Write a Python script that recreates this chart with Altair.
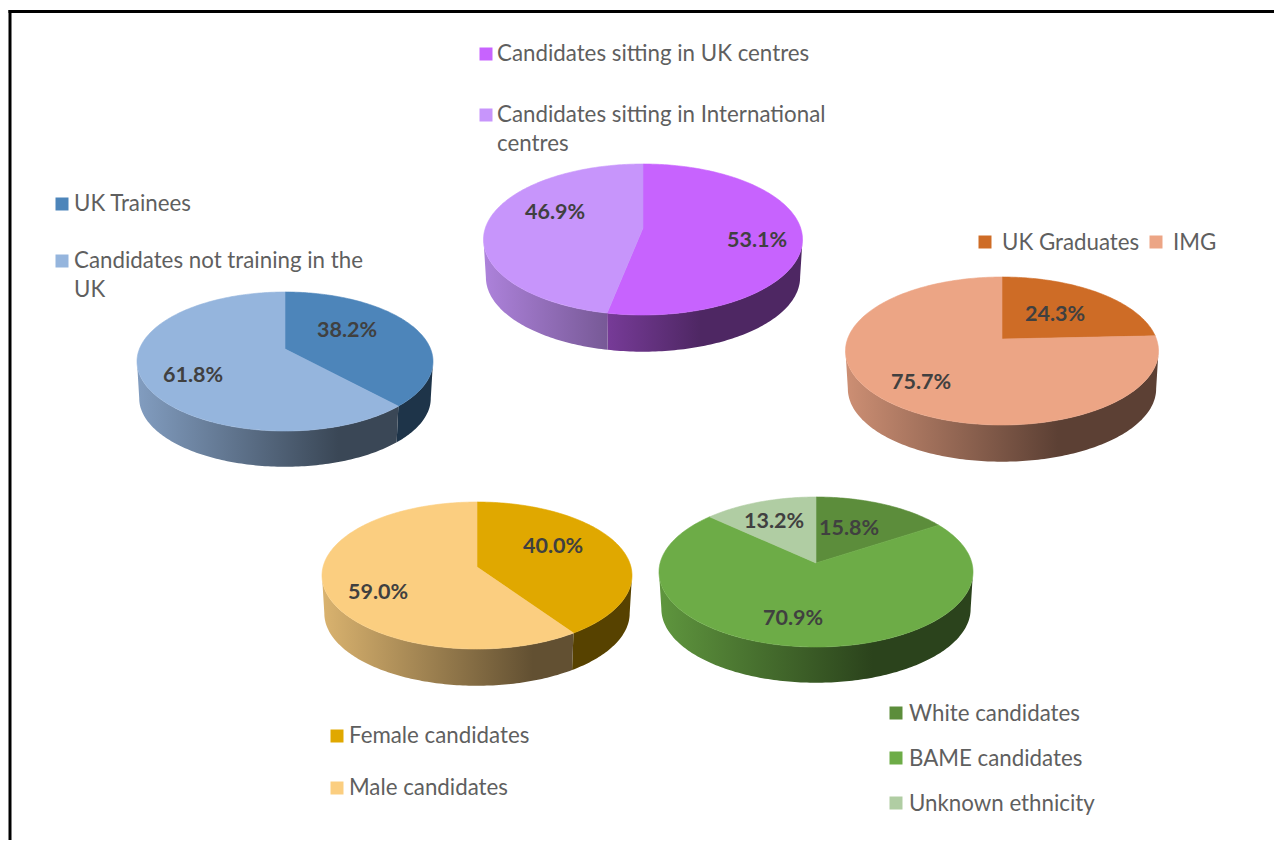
import math
import altair as alt
import pandas as pd

# ---- values ----
trainee_labels = ["UK Trainees", "Candidates not training in the UK"]
trainee_values = [38.2, 61.8]
centre_labels = ["Candidates sitting in UK centres", "Candidates sitting in International centres"]
centre_values = [53.1, 46.9]
graduate_labels = ["UK Graduates", "IMG"]
graduate_values = [24.3, 75.7]
gender_labels = ["Female candidates", "Male candidates"]
gender_values = [40.0, 59.0]
ethnicity_labels = ["White candidates", "BAME candidates", "Unknown ethnicity"]
ethnicity_values = [15.8, 70.9, 13.2]

# ---- styling and layout (page pixel positions) ----
W, H = 1266, 832
FONT = "Lato"
LEG_SIZE = 22.3
LBL_SIZE = 21.5
LEG_COLOR = "#5f5f5f"
LBL_COLOR = "#404040"

pies = [
    dict(values=trainee_values, colors=["#4D85BA", "#95B5DD"], ax=285, ay=349, top=292, bot=431, left=137, right=433, thick=37,
         lbl=[(347, 331), (193, 376)]),
    dict(values=centre_values, colors=["#C763FE", "#C795FB"], ax=643, ay=228, top=164, bot=315, left=484, right=803, thick=38,
         lbl=[(757, 241), (555, 213)]),
    dict(values=graduate_values, colors=["#CE6C26", "#ECA585"], ax=1002, ay=339, top=277, bot=425, left=845, right=1158, thick=38,
         lbl=[(1055, 315), (921, 383)]),
    dict(values=gender_values, colors=["#E0A800", "#FBCE80"], ax=477, ay=567, top=502, bot=649, left=322, right=632, thick=38,
         lbl=[(553, 547), (378, 593)]),
    dict(values=ethnicity_values, colors=["#5C8D3B", "#6DAC47", "#B0CDA3"], ax=816, ay=563, top=497, bot=647, left=659, right=973, thick=37,
         lbl=[(849, 529), (793, 619), (774, 522)]),
]

legend_rows = [
    (62, 204, 74, ["UK Trainees"], "#4D85BA"),
    (62, 261, 74, ["Candidates not training in the", "UK"], "#95B5DD"),
    (486, 54, 497, ["Candidates sitting in UK centres"], "#C763FE"),
    (486, 115, 497, ["Candidates sitting in International", "centres"], "#C795FB"),
    (985, 243, 1002, ["UK Graduates"], "#CE6C26"),
    (1156, 243, 1173, ["IMG"], "#ECA585"),
    (337, 736, 349, ["Female candidates"], "#E0A800"),
    (337, 788, 349, ["Male candidates"], "#FBCE80"),
    (896, 714, 909, ["White candidates"], "#5C8D3B"),
    (896, 759, 909, ["BAME candidates"], "#6DAC47"),
    (896, 804, 909, ["Unknown ethnicity"], "#B0CDA3"),
]
LINE_GAP = 29

X = alt.X("x:Q", scale=alt.Scale(domain=[8, 8 + W], nice=False, zero=False), axis=None)
Y = alt.Y("y:Q", scale=alt.Scale(domain=[8, 8 + H], nice=False, zero=False, reverse=True), axis=None)


def rim(p, theta):
    """Perspective image of a point on the unit circle, theta clockwise from the top."""
    up, down = p["ay"] - p["top"], p["bot"] - p["ay"]
    c = (down - up) / (down + up)
    A = down * (1 - c)
    B = (p["right"] - p["left"]) / 2 * math.sqrt(1 - c * c)
    u, v = math.sin(theta), -math.cos(theta)
    d = 1 - c * v
    return B * u / d, A * v / d


def polygon(rows, fill, stroke=None):
    df = pd.DataFrame(rows, columns=["x", "y"]).reset_index(names="i")
    kw = dict(filled=True, interpolate="linear-closed", fill=fill, strokeWidth=0)
    if stroke:
        kw.update(stroke=stroke, strokeWidth=0.6)
    return alt.Chart(df).mark_line(**kw).encode(x=X, y=Y, order=alt.Order("i:Q"))


def shade(hex_color, f):
    r, g, b = (int(hex_color[i:i + 2], 16) for i in (1, 3, 5))
    return "#%02x%02x%02x" % (round(r * f), round(g * f), round(b * f))


KNOT = 0.68


def factor(t):
    return 0.39 if t >= KNOT else 0.87 + (0.39 - 0.87) * t / KNOT


def wall_gradient(p, color, x0, x1):
    span = p["right"] - p["left"]
    t0, t1 = (x0 - p["left"]) / span, (x1 - p["left"]) / span
    stops = [alt.GradientStop(offset=0, color=shade(color, factor(t0)))]
    if t0 < KNOT < t1:
        stops.append(alt.GradientStop(offset=(KNOT - t0) / (t1 - t0), color=shade(color, factor(KNOT))))
    stops.append(alt.GradientStop(offset=1, color=shade(color, factor(t1))))
    return alt.LinearGradient(gradient="linear", stops=stops, x1=0, x2=1, y1=0, y2=0)


layers = []
wall_layers, top_layers = [], []
for p in pies:
    total = sum(p["values"])
    up, down = p["ay"] - p["top"], p["bot"] - p["ay"]
    c = (down - up) / (down + up)
    th_r = math.acos(-c)
    th_l = 2 * math.pi - th_r
    start = 0.0
    for value, color in zip(p["values"], p["colors"]):
        end = start + 2 * math.pi * value / total
        n = max(2, int((end - start) / math.radians(1)))
        thetas = [start + (end - start) * k / n for k in range(n + 1)]
        pts = [(p["ax"] + rim(p, t)[0], p["ay"] + rim(p, t)[1]) for t in thetas]
        top_layers.append(polygon([(p["ax"], p["ay"])] + pts, color, stroke=color))
        a, b = max(start, th_r), min(end, th_l)
        if b > a:
            m = max(2, int((b - a) / math.radians(1)))
            ts = [a + (b - a) * k / m for k in range(m + 1)]
            upper = [(p["ax"] + rim(p, t)[0], p["ay"] + rim(p, t)[1]) for t in ts]
            lower = [(p["ax"] + 0.985 * rim(p, t)[0], p["ay"] + 0.985 * rim(p, t)[1] + p["thick"]) for t in ts]
            xs = [q[0] for q in upper + lower]
            wall_layers.append(polygon(upper + lower[::-1], wall_gradient(p, color, min(xs), max(xs))))
        start = end

# frame
frame_v = alt.Chart(pd.DataFrame({"x": [10], "y": [10], "y2": [8 + H]})).mark_rule(color="#000000", strokeWidth=3).encode(
    x=X, y=Y, y2="y2:Q")
frame_h = alt.Chart(pd.DataFrame({"x": [8.5], "x2": [8 + W], "y": [11.5]})).mark_rule(color="#000000", strokeWidth=3).encode(
    x=X, x2="x2:Q", y=Y)

# data labels
lbl_rows = []
for p in pies:
    for value, (lx, ly) in zip(p["values"], p["lbl"]):
        lbl_rows.append({"x": lx, "y": ly, "t": f"{value:.1f}%"})
labels = alt.Chart(pd.DataFrame(lbl_rows)).mark_text(
    font=FONT, fontSize=LBL_SIZE, fontWeight="bold", color=LBL_COLOR, align="center", baseline="middle"
).encode(x=X, y=Y, text="t:N")

# legends
sq_rows = [{"x": r[0], "y": r[1] - (1 if r[1] in (243, 714, 759, 804) else 0), "c": r[4]} for r in legend_rows]
squares = alt.Chart(pd.DataFrame(sq_rows)).mark_square(size=169, opacity=1, filled=True).encode(
    x=X, y=Y, color=alt.Color("c:N", scale=None))
txt_rows = []
for sx, sy, tx, lines, col in legend_rows:
    for k, line in enumerate(lines):
        txt_rows.append({"x": tx, "y": sy + k * LINE_GAP, "t": line})
texts = alt.Chart(pd.DataFrame(txt_rows)).mark_text(
    font=FONT, fontSize=LEG_SIZE, color=LEG_COLOR, align="left", baseline="middle"
).encode(x=X, y=Y, text="t:N")

chart = alt.layer(frame_v, frame_h, *wall_layers, *top_layers, squares, texts, labels).properties(
    width=W, height=H, padding=0, background="#ffffff", autosize=alt.AutoSizeParams(type="none")
).configure_view(stroke=None)

chart.save("out.html", embed_options={"renderer": "svg", "actions": False})
